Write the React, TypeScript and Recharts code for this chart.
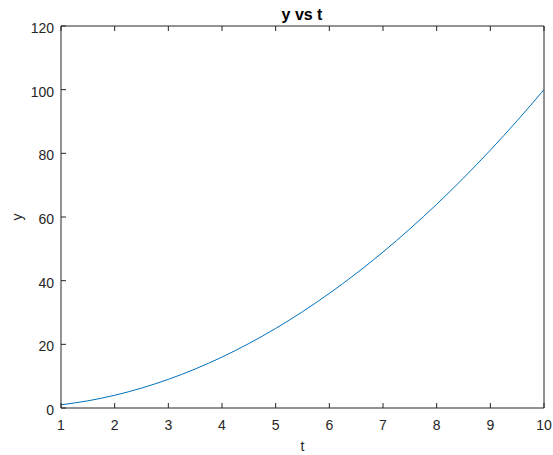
import React from 'react'
import { LineChart, Line, XAxis, YAxis } from 'recharts'

const tValues = [1, 1.5, 2, 2.5, 3, 3.5, 4, 4.5, 5, 5.5, 6, 6.5, 7, 7.5, 8, 8.5, 9, 9.5, 10]
const yValues = [1, 2.25, 4, 6.25, 9, 12.25, 16, 20.25, 25, 30.25, 36, 42.25, 49, 56.25, 64, 72.25, 81, 90.25, 100]
const xTicks = [1, 2, 3, 4, 5, 6, 7, 8, 9, 10]
const yTicks = [0, 20, 40, 60, 80, 100, 120]

const data = tValues.map((t, i) => ({ t, y: yValues[i] }))

const AX = '#262626'
const FONT = '"Liberation Sans", Arial, Helvetica, sans-serif'

// plot box edges
const LEFT = 61
const RIGHT = 544
const TOP = 26
const BOTTOM = 408

const BottomTick = ({ x, payload }: any) => (
  <g>
    <line x1={x} y1={BOTTOM} x2={x} y2={BOTTOM - 5} stroke={AX} />
    <text x={x} y={BOTTOM + 22} textAnchor="middle" fill={AX} fontSize={14} fontFamily={FONT}>
      {payload.value}
    </text>
  </g>
)

const TopTick = ({ x }: any) => (
  <line x1={x} y1={TOP} x2={x} y2={TOP + 5} stroke={AX} />
)

const LeftTick = ({ y, payload }: any) => (
  <g>
    <line x1={LEFT} y1={y} x2={LEFT + 5} y2={y} stroke={AX} />
    <text x={LEFT - 7} y={y + 7} textAnchor="end" fill={AX} fontSize={14} fontFamily={FONT}>
      {payload.value}
    </text>
  </g>
)

const RightTick = ({ y }: any) => (
  <line x1={RIGHT} y1={y} x2={RIGHT - 5} y2={y} stroke={AX} />
)

export default function App() {
  return (
    <div style={{ position: 'absolute', left: 0, top: 0, width: 553, height: 455, background: '#fff' }}>
      <LineChart
        width={553}
        height={455}
        data={data}
        margin={{ top: TOP - 1, right: 553 - RIGHT - 1, left: 0, bottom: 0 }}
      >
        <XAxis
          xAxisId="b"
          dataKey="t"
          type="number"
          domain={[1, 10]}
          ticks={xTicks}
          height={455 - BOTTOM}
          tickLine={false}
          stroke={AX}
          tick={<BottomTick />}
          interval={0}
        />
        <XAxis
          xAxisId="top"
          dataKey="t"
          type="number"
          orientation="top"
          domain={[1, 10]}
          ticks={xTicks}
          height={1}
          tickLine={false}
          stroke={AX}
          tick={<TopTick />}
          interval={0}
        />
        <YAxis
          yAxisId="l"
          type="number"
          domain={[0, 120]}
          ticks={yTicks}
          width={LEFT}
          tickLine={false}
          stroke={AX}
          tick={<LeftTick />}
          interval={0}
        />
        <YAxis
          yAxisId="r"
          type="number"
          orientation="right"
          domain={[0, 120]}
          ticks={yTicks}
          width={1}
          tickLine={false}
          stroke={AX}
          tick={<RightTick />}
          interval={0}
        />
        <Line
          xAxisId="b"
          yAxisId="l"
          dataKey="y"
          type="monotone"
          stroke="#0072BD"
          strokeWidth={1}
          dot={false}
          isAnimationActive={false}
        />
        <text x={302} y={20} textAnchor="middle" fontWeight="bold" fontSize={16} fill="#000" fontFamily={FONT}>
          y vs t
        </text>
        <text x={302.5} y={451} textAnchor="middle" fontSize={14} fill={AX} fontFamily={FONT}>
          t
        </text>
        <text
          x={22}
          y={217}
          textAnchor="middle"
          fontSize={14}
          fill={AX}
          fontFamily={FONT}
          transform="rotate(-90 22 217)"
        >
          y
        </text>
      </LineChart>
    </div>
  )
}
